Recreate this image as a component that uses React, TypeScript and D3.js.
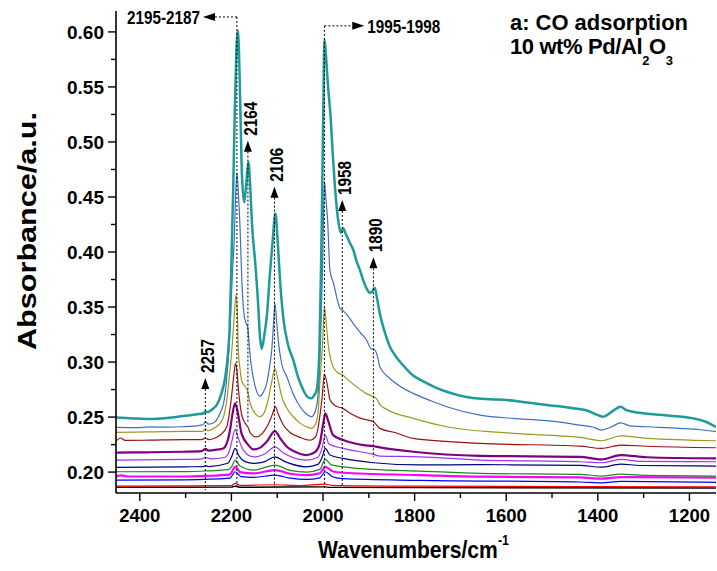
import React from "react";
import * as d3 from "d3";

type Pt = [number, number]; // [wavenumber cm-1, absorbance]

// Spectra, top (highest CO dose) to bottom
const spectrum12: Pt[] = [
  [2452, 0.2497], [2415, 0.2488], [2378, 0.2482], [2340, 0.2492], [2305, 0.251], [2275, 0.2525],
  [2262, 0.2533], [2257, 0.2548], [2252, 0.2545], [2247, 0.2555], [2239, 0.258], [2232, 0.261],
  [2223, 0.27], [2214, 0.285], [2207, 0.31], [2204, 0.33], [2200, 0.39], [2196, 0.46], [2192, 0.54],
  [2189, 0.585], [2186, 0.601], [2183, 0.575], [2180, 0.52], [2177, 0.47], [2172, 0.445], [2168, 0.46],
  [2163, 0.482], [2159, 0.46], [2155, 0.425], [2148, 0.39], [2142, 0.355], [2138, 0.325], [2134, 0.312],
  [2129, 0.322], [2122, 0.345], [2116, 0.38], [2110, 0.41], [2104, 0.435], [2099, 0.41], [2094, 0.375],
  [2087, 0.341], [2076, 0.315], [2065, 0.302], [2055, 0.287], [2043, 0.2745], [2033, 0.268], [2025, 0.267],
  [2019, 0.27], [2014, 0.2745], [2010, 0.29], [2008, 0.311], [2005, 0.372], [2003, 0.42], [2001, 0.48],
  [1999, 0.54], [1997, 0.593], [1994, 0.5806], [1989, 0.5503], [1983, 0.52], [1979, 0.49], [1974, 0.4594],
  [1967, 0.4291], [1961, 0.4175], [1956, 0.4215], [1951, 0.417], [1941, 0.408], [1934, 0.402], [1927, 0.392],
  [1919, 0.383], [1912, 0.374], [1905, 0.367], [1898, 0.363], [1894, 0.3635], [1887, 0.3676], [1883, 0.36],
  [1876, 0.344], [1865, 0.327], [1854, 0.314], [1841, 0.305], [1825, 0.297], [1804, 0.288], [1782, 0.2826],
  [1755, 0.277], [1730, 0.273], [1701, 0.2695], [1673, 0.2673], [1635, 0.2662], [1599, 0.2655], [1559, 0.2635],
  [1512, 0.261], [1454, 0.258], [1421, 0.2555], [1404, 0.2525], [1389, 0.2503], [1369, 0.255], [1350, 0.2594],
  [1339, 0.2565], [1323, 0.2548], [1258, 0.2518], [1192, 0.2488], [1166, 0.246], [1142, 0.241],
];

const spectrum11: Pt[] = [
  [2452, 0.2406], [2410, 0.2404], [2378, 0.241], [2340, 0.2408], [2306, 0.2412], [2269, 0.2425], [2262, 0.243],
  [2257, 0.2457], [2250, 0.2435], [2238, 0.245], [2225, 0.2533], [2216, 0.265], [2210, 0.2866], [2205, 0.315],
  [2202, 0.3412], [2198, 0.38], [2194, 0.41], [2191, 0.45], [2188, 0.472], [2185, 0.455], [2181, 0.42],
  [2177, 0.3715], [2173, 0.345], [2168, 0.3352], [2165, 0.333], [2159, 0.305], [2148, 0.2776], [2138, 0.269],
  [2131, 0.272], [2123, 0.2806], [2117, 0.295], [2112, 0.311], [2108, 0.335], [2105, 0.3534], [2101, 0.335],
  [2097, 0.317], [2090, 0.298], [2079, 0.2866], [2065, 0.271], [2050, 0.2594], [2037, 0.253], [2025, 0.2503],
  [2017, 0.255], [2010, 0.2745], [2005, 0.3261], [2001, 0.3866], [1999, 0.43], [1997, 0.4645], [1994, 0.45],
  [1990, 0.429], [1985, 0.3836], [1977, 0.3715], [1969, 0.357], [1963, 0.349], [1957, 0.347], [1948, 0.343],
  [1934, 0.335], [1919, 0.327], [1905, 0.32], [1895, 0.312], [1887, 0.311], [1881, 0.305], [1876, 0.2957],
  [1854, 0.285], [1832, 0.278], [1803, 0.2715], [1766, 0.265], [1730, 0.2594], [1657, 0.2518], [1585, 0.2488],
  [1512, 0.2467], [1439, 0.2427], [1411, 0.241], [1392, 0.2382], [1371, 0.241], [1350, 0.2448], [1330, 0.242],
  [1293, 0.2412], [1221, 0.2397], [1177, 0.2385], [1142, 0.2367],
];

const spectrum10: Pt[] = [
  [2452, 0.2361], [2380, 0.2365], [2305, 0.237], [2262, 0.237], [2257, 0.2395], [2252, 0.2375], [2240, 0.2395],
  [2225, 0.2443], [2216, 0.252], [2210, 0.2655], [2205, 0.285], [2199, 0.311], [2195, 0.335], [2190, 0.361],
  [2187, 0.345], [2185, 0.311], [2181, 0.293], [2178, 0.2836], [2170, 0.2776], [2165, 0.274], [2159, 0.2625],
  [2145, 0.2518], [2138, 0.2503], [2129, 0.2535], [2120, 0.2655], [2113, 0.28], [2105, 0.2943], [2098, 0.283],
  [2090, 0.2685], [2079, 0.258], [2065, 0.2503], [2050, 0.2445], [2036, 0.2412], [2025, 0.2397], [2015, 0.245],
  [2010, 0.258], [2007, 0.2806], [2002, 0.31], [1999, 0.335], [1997, 0.3503], [1994, 0.34], [1989, 0.317],
  [1978, 0.2957], [1967, 0.29], [1957, 0.2882], [1946, 0.284], [1927, 0.2776], [1908, 0.272], [1890, 0.2685],
  [1884, 0.267], [1875, 0.261], [1861, 0.257], [1803, 0.2488], [1730, 0.2412], [1585, 0.2352], [1439, 0.2315],
  [1392, 0.2285], [1350, 0.233], [1293, 0.2306], [1142, 0.2285],
];

const spectrum9: Pt[] = [
  [2452, 0.2285], [2442, 0.231], [2432, 0.2288], [2380, 0.229], [2305, 0.2295], [2264, 0.2295], [2257, 0.231],
  [2250, 0.2295], [2238, 0.2305], [2225, 0.2335], [2210, 0.2412], [2204, 0.255], [2199, 0.2715], [2195, 0.287],
  [2191, 0.2988], [2188, 0.292], [2184, 0.272], [2178, 0.253], [2170, 0.2445], [2164, 0.241], [2158, 0.235],
  [2146, 0.232], [2133, 0.235], [2120, 0.243], [2111, 0.252], [2104, 0.2594], [2098, 0.253], [2087, 0.243],
  [2072, 0.236], [2050, 0.2315], [2029, 0.229], [2015, 0.233], [2009, 0.245], [2002, 0.268], [1997, 0.2891],
  [1991, 0.28], [1985, 0.266], [1974, 0.2605], [1957, 0.2579], [1941, 0.2535], [1919, 0.249], [1890, 0.2457],
  [1876, 0.2397], [1843, 0.236], [1803, 0.2306], [1657, 0.2261], [1439, 0.2236], [1392, 0.2215], [1350, 0.2245],
  [1293, 0.2235], [1142, 0.2221],
];

const spectrum8: Pt[] = [
  [2452, 0.2176], [2380, 0.218], [2305, 0.2185], [2265, 0.219], [2257, 0.2212], [2250, 0.2195], [2230, 0.2205],
  [2218, 0.2215], [2208, 0.229], [2203, 0.2382], [2198, 0.252], [2192, 0.2625], [2186, 0.254], [2178, 0.2352],
  [2163, 0.2245], [2152, 0.2206], [2138, 0.222], [2123, 0.2276], [2105, 0.2373], [2094, 0.231], [2079, 0.223],
  [2061, 0.2185], [2036, 0.2155], [2018, 0.218], [2007, 0.2261], [2000, 0.243], [1995, 0.2534], [1989, 0.247],
  [1978, 0.2336], [1956, 0.2291], [1912, 0.2245], [1890, 0.2235], [1876, 0.2225], [1803, 0.2185], [1657, 0.2148],
  [1439, 0.2139], [1392, 0.2115], [1350, 0.2155], [1293, 0.2135], [1142, 0.2124],
];

const spectrum7: Pt[] = [
  [2452, 0.2109], [2300, 0.2115], [2265, 0.212], [2257, 0.2133], [2245, 0.212], [2214, 0.2135], [2205, 0.2185],
  [2199, 0.228], [2192, 0.2388], [2186, 0.232], [2174, 0.22], [2152, 0.2139], [2127, 0.2165], [2105, 0.223],
  [2087, 0.2175], [2036, 0.2109], [2011, 0.2135], [2002, 0.222], [1995, 0.2336], [1987, 0.2255], [1956, 0.2215],
  [1890, 0.2161], [1876, 0.2145], [1788, 0.2139], [1657, 0.2109], [1439, 0.2094], [1392, 0.2085], [1350, 0.2115],
  [1308, 0.2098], [1142, 0.2094],
];

const spectrum6: Pt[] = [
  [2452, 0.2043], [2300, 0.2048], [2262, 0.205], [2257, 0.2058], [2250, 0.205], [2208, 0.208], [2199, 0.2145],
  [2192, 0.2215], [2184, 0.215], [2170, 0.2095], [2152, 0.2079], [2127, 0.2095], [2105, 0.2139], [2083, 0.2095],
  [2036, 0.2048], [2011, 0.207], [2002, 0.2135], [1995, 0.2215], [1985, 0.2155], [1956, 0.2124], [1890, 0.2085],
  [1788, 0.2065], [1657, 0.2067], [1439, 0.2061], [1392, 0.2045], [1350, 0.2073], [1308, 0.206], [1142, 0.2055],
];

const spectrum5: Pt[] = [
  [2452, 0.2003], [2300, 0.2005], [2257, 0.201], [2205, 0.2025], [2198, 0.206], [2192, 0.2109], [2181, 0.2055],
  [2152, 0.2018], [2105, 0.2064], [2072, 0.2015], [2036, 0.2], [2007, 0.2025], [1995, 0.2115], [1982, 0.2065],
  [1956, 0.2048], [1890, 0.2025], [1788, 0.2009], [1657, 0.1988], [1439, 0.1979], [1392, 0.1964], [1350, 0.1982],
  [1308, 0.1972], [1142, 0.1964],
];

const spectrum4: Pt[] = [
  [2452, 0.1957], [2442, 0.197], [2425, 0.196], [2300, 0.196], [2257, 0.1965], [2203, 0.198], [2192, 0.2048],
  [2181, 0.2], [2152, 0.1988], [2105, 0.2018], [2072, 0.1985], [2036, 0.1973], [2007, 0.199], [1995, 0.2048],
  [1978, 0.2005], [1956, 0.1994], [1788, 0.1973], [1657, 0.1958], [1439, 0.1952], [1392, 0.194], [1350, 0.1955],
  [1142, 0.1949],
];

const spectrum3: Pt[] = [
  [2452, 0.1927], [2300, 0.193], [2203, 0.1945], [2192, 0.2003], [2179, 0.1958], [2152, 0.1952], [2105, 0.1973],
  [2072, 0.1945], [2036, 0.1933], [2007, 0.1948], [1995, 0.2003], [1978, 0.1955], [1957, 0.194], [1788, 0.1925],
  [1439, 0.191], [1392, 0.1902], [1350, 0.1915], [1142, 0.1906],
];

const spectrum2: Pt[] = [
  [2452, 0.1873], [2300, 0.1875], [2200, 0.1878], [2192, 0.1897], [2180, 0.188], [2105, 0.1885], [2050, 0.1878],
  [1995, 0.189], [1980, 0.188], [1800, 0.1872], [1440, 0.1868], [1142, 0.1866],
];

const spectrum1: Pt[] = [
  [2452, 0.1862], [2200, 0.1863], [2192, 0.1872], [2180, 0.1862], [1995, 0.1866], [1985, 0.1861], [1142, 0.1855],
];

// Drawing order: lowest first so the top trace sits above the rest
const spectra: Pt[][] = [
  spectrum1, spectrum2, spectrum3, spectrum4, spectrum5, spectrum6,
  spectrum7, spectrum8, spectrum9, spectrum10, spectrum11, spectrum12,
];
const traceColors = [
  "#000000", "#ff0000", "#0000ff", "#ff00ff", "#1a8a1a", "#000080",
  "#9933ff", "#800080", "#9b1010", "#9a9a1e", "#3c70c0", "#1e9a98",
];
const traceWidths = [1.4, 1.2, 1.2, 2.2, 1.2, 1.2, 1.2, 2.2, 1.2, 1.2, 1.2, 2.5];

const xMajorTicks = [2400, 2200, 2000, 1800, 1600, 1400, 1200];
const xMinorTicks = [2300, 2100, 1900, 1700, 1500, 1300];
const yMajorTicks = [0.2, 0.25, 0.3, 0.35, 0.4, 0.45, 0.5, 0.55, 0.6];
const yMinorTicks = [0.225, 0.275, 0.325, 0.375, 0.425, 0.475, 0.525, 0.575];

// Band assignments marked with arrows: wavenumber, arrow tip and lower end of the guide (absorbance)
const bandLabels = ["2257", "2164", "2106", "1958", "1890"];
const bandPositions = [2257, 2164, 2106, 1958, 1890];
const bandTips = [0.2855, 0.5012, 0.4594, 0.4473, 0.3952];
const bandEnds = [0.1836, 0.2445, 0.1855, 0.188, 0.2136];

// Shifting bands: guide from the peak top, then a horizontal leader to the label
const shiftLabels = ["2195-2187", "1995-1998"];
const shiftPositions = [2188, 1997];
const shiftTops = [0.6136, 0.6055];
const shiftEnds = [0.1855, 0.1855];
const shiftArrowTips = [2262, 1910];

const FONT = "'Liberation Sans', Arial, Helvetica, sans-serif";

export default function App() {
  const W = 717;
  const H = 571;
  const left = 116;
  const right = 716;
  const top = 11;
  const bottom = 493;

  const x = d3.scaleLinear().domain([2452, 1142]).range([left, right]);
  const y = d3.scaleLinear().domain([0.181, 0.619]).range([bottom, top]);

  const line = d3
    .line<Pt>()
    .x((d) => x(d[0]))
    .y((d) => y(d[1]))
    .curve(d3.curveMonotoneX);

  const dash = "2,2";

  return (
    <svg
      width={W}
      height={H}
      viewBox={`0 0 ${W} ${H}`}
      style={{ position: "absolute", left: 0, top: 0, background: "#fff" }}
      fontFamily={FONT}
      fontWeight="bold"
    >
      <defs>
        <clipPath id="plot-clip">
          <rect x={left} y={top} width={right - left} height={bottom - top} />
        </clipPath>
      </defs>

      {/* spectra */}
      <g clipPath="url(#plot-clip)">
        {spectra.map((s, i) => (
          <path
            key={i}
            d={line(s) || ""}
            fill="none"
            stroke={traceColors[i]}
            strokeWidth={traceWidths[i]}
            strokeLinejoin="round"
          />
        ))}
      </g>

      {/* arrowed band markers */}
      {bandLabels.map((lab, i) => {
        const bx = x(bandPositions[i]);
        const tip = y(bandTips[i]);
        const base = tip + 11;
        return (
          <g key={lab}>
            <line x1={bx} x2={bx} y1={base} y2={y(bandEnds[i])} stroke="#000" strokeWidth={1} strokeDasharray={dash} />
            <path d={`M${bx},${tip} L${bx - 4},${base} L${bx + 4},${base} Z`} fill="#000" />
            <text
              transform={`translate(${bx + 9},${tip - 5}) rotate(-90)`}
              fontSize={17.5}
              textLength={34}
              lengthAdjust="spacingAndGlyphs"
            >
              {lab}
            </text>
          </g>
        );
      })}

      {/* shifting band leaders */}
      {shiftLabels.map((lab, i) => {
        const bx = x(shiftPositions[i]);
        const ty = y(shiftTops[i]);
        const tipX = x(shiftArrowTips[i]);
        const dir = tipX < bx ? -1 : 1;
        const baseX = tipX - dir * 12;
        return (
          <g key={lab}>
            <line x1={bx} x2={bx} y1={ty} y2={y(shiftEnds[i])} stroke="#000" strokeWidth={1} strokeDasharray={dash} />
            <line x1={bx} x2={baseX} y1={ty} y2={ty} stroke="#000" strokeWidth={1} strokeDasharray={dash} />
            <path d={`M${tipX},${ty} L${baseX},${ty - 4} L${baseX},${ty + 4} Z`} fill="#000" />
            <text
              x={tipX + dir * 3}
              y={ty + 7}
              textAnchor={dir < 0 ? "end" : "start"}
              fontSize={17.5}
              textLength={73}
              lengthAdjust="spacingAndGlyphs"
            >
              {lab}
            </text>
          </g>
        );
      })}

      {/* axes */}
      <line x1={left} x2={left} y1={top} y2={bottom} stroke="#000" strokeWidth={1.6} />
      <line x1={left} x2={right} y1={bottom} y2={bottom} stroke="#000" strokeWidth={1.6} />

      {yMajorTicks.map((t) => (
        <g key={`ym${t}`}>
          <line x1={left - 8} x2={left} y1={y(t)} y2={y(t)} stroke="#000" strokeWidth={1.4} />
          <text x={left - 12} y={y(t) + 6.8} textAnchor="end" fontSize={19}>
            {d3.format(".2f")(t)}
          </text>
        </g>
      ))}
      {yMinorTicks.map((t) => (
        <line key={`yn${t}`} x1={left - 5} x2={left} y1={y(t)} y2={y(t)} stroke="#000" strokeWidth={1.4} />
      ))}

      {xMajorTicks.map((t) => (
        <g key={`xm${t}`}>
          <line x1={x(t)} x2={x(t)} y1={bottom} y2={bottom + 8} stroke="#000" strokeWidth={1.4} />
          <text x={x(t)} y={bottom + 29} textAnchor="middle" fontSize={18.5}>
            {t}
          </text>
        </g>
      ))}
      {xMinorTicks.map((t) => (
        <line key={`xn${t}`} x1={x(t)} x2={x(t)} y1={bottom} y2={bottom + 5} stroke="#000" strokeWidth={1.4} />
      ))}

      {/* axis titles */}
      <text
        transform={`translate(36,231) rotate(-90)`}
        textAnchor="middle"
        fontSize={25}
        textLength={238}
        lengthAdjust="spacingAndGlyphs"
      >
        Absorbance/a.u.
      </text>
      <text transform="translate(318,558) scale(0.88,1)" fontSize={24}>
        Wavenumbers/cm
        <tspan dy={-13} fontSize={14}>-1</tspan>
      </text>

      {/* sample caption */}
      <text x={510} y={30} fontSize={22} textLength={178} lengthAdjust="spacingAndGlyphs">
        a: CO adsorption
      </text>
      <text x={510} y={54} fontSize={22} letterSpacing={-0.4}>
        10 wt% Pd/Al
        <tspan dy={11} fontSize={13}>2</tspan>
        <tspan dy={-11}>O</tspan>
        <tspan dy={11} fontSize={13}>3</tspan>
      </text>
    </svg>
  );
}
